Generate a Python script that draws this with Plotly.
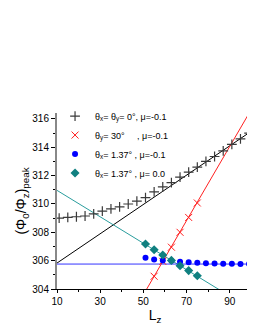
import plotly.graph_objects as go

# ---- data ----
lz_a = [11, 15, 19, 23, 27, 31, 35, 39, 43, 47, 51, 55, 59, 63, 67, 71, 75, 79, 83, 87, 91, 95, 99]
phi_a = [309.0, 309.05, 309.1, 309.15, 309.3, 309.5, 309.65, 309.8, 310.0, 310.2, 310.45, 310.85,
         311.2, 311.5, 311.9, 312.25, 312.6, 313.0, 313.35, 313.75, 314.2, 314.6, 315.0]

lz_b = [55, 59, 63, 67, 71, 75]
phi_b = [304.9, 305.95, 306.95, 308.0, 309.05, 310.07]

lz_c = [51, 55, 59, 63, 67, 71, 75, 79, 83, 87, 91, 95, 99]
phi_c = [306.2, 306.08, 306.02, 306.0, 305.92, 305.88, 305.85, 305.82, 305.8, 305.79, 305.78, 305.77, 305.77]

lz_d = [51, 55, 59, 63, 67, 71, 75]
phi_d = [307.18, 306.77, 306.4, 306.02, 305.64, 305.3, 304.94]

# fitted lines (end points)
fit_a_x = [10, 102]
fit_a_y = [305.83, 315.34]
fit_b_x = [50, 100]
fit_b_y = [303.59, 316.67]
fit_c_x = [10, 102]
fit_c_y = [305.76, 305.76]
fit_d_x = [10, 90]
fit_d_y = [310.96, 303.5]

labels = [
    "θ<sub>x</sub>= θ<sub>y</sub>= 0°, μ=-0.1",
    "θ<sub>y</sub>= 30°     , μ=-0.1",
    "θ<sub>x</sub>= 1.37° , μ=-0.1",
    "θ<sub>x</sub>= 1.37° , μ= 0.0",
]

FONT = "Liberation Sans, Arial, sans-serif"

fig = go.Figure()

# fit lines (no legend)
fig.add_trace(go.Scatter(x=fit_a_x, y=fit_a_y, mode="lines", line=dict(color="#000000", width=1),
                         showlegend=False, hoverinfo="skip"))
fig.add_trace(go.Scatter(x=fit_d_x, y=fit_d_y, mode="lines", line=dict(color="#2a9d9d", width=1),
                         showlegend=False, hoverinfo="skip"))
fig.add_trace(go.Scatter(x=fit_c_x, y=fit_c_y, mode="lines", line=dict(color="#3333ff", width=1),
                         showlegend=False, hoverinfo="skip"))
fig.add_trace(go.Scatter(x=fit_b_x, y=fit_b_y, mode="lines", line=dict(color="#ff2020", width=1),
                         showlegend=False, hoverinfo="skip"))

# data markers
fig.add_trace(go.Scatter(x=lz_a, y=phi_a, mode="markers", name=labels[0],
                         marker=dict(symbol="cross-thin", size=7, line=dict(color="#3a3a3a", width=1.2))))
fig.add_trace(go.Scatter(x=lz_b, y=phi_b, mode="markers", name=labels[1],
                         marker=dict(symbol="x-thin", size=7, line=dict(color="#ff2020", width=1))))
fig.add_trace(go.Scatter(x=lz_c, y=phi_c, mode="markers", name=labels[2],
                         marker=dict(symbol="circle", size=6, color="#0000ff")))
fig.add_trace(go.Scatter(x=lz_d, y=phi_d, mode="markers", name=labels[3],
                         marker=dict(symbol="diamond", size=7, color="#108080")))

# the page body has an 8px margin, so the figure is 8px smaller and margins shifted
fig.update_layout(
    width=247, height=322,
    margin=dict(l=49, r=2, t=105, b=41),
    paper_bgcolor="white", plot_bgcolor="white",
    font=dict(family=FONT, size=10, color="#000000"),
    showlegend=True,
    legend=dict(x=-0.01, y=1.065, xanchor="left", yanchor="top", bgcolor="rgba(0,0,0,0)",
                font=dict(size=9), tracegroupgap=0, itemwidth=30),
    xaxis=dict(range=[10, 100.8], tickvals=[10, 30, 50, 70, 90], showgrid=False, zeroline=False,
               showline=True, linecolor="#000000", linewidth=1,
               ticks="outside", ticklen=3, tickcolor="#000000",
               minor=dict(tickvals=[20, 40, 60, 80, 100], ticks="outside", ticklen=2, tickcolor="#000000"),
               title=dict(text="L<sub>z</sub>", font=dict(size=14), standoff=4)),
    yaxis=dict(range=[304, 316.42], tickvals=[304, 306, 308, 310, 312, 314, 316], showgrid=False, zeroline=False,
               showline=True, linecolor="#888888", linewidth=2,
               ticks="outside", ticklen=4, tickcolor="#000000",
               minor=dict(tickvals=[305, 307, 309, 311, 313, 315], ticks="outside", ticklen=2, tickcolor="#000000"),
               title=dict(text="(Φ<sub>0</sub>/Φ<sub>z</sub>)<sub>peak</sub>", font=dict(size=14), standoff=2)),
)

fig.write_html("out.html")
